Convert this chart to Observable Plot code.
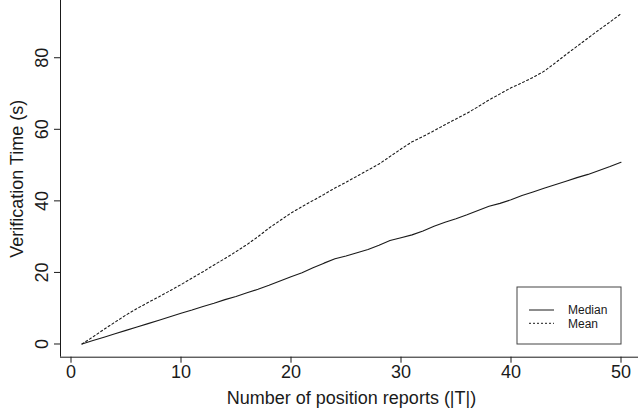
<!DOCTYPE html>
<html>
<head>
<meta charset="utf-8">
<script src="https://cdn.jsdelivr.net/npm/d3@7"></script>
<script src="https://cdn.jsdelivr.net/npm/@observablehq/plot@0.6"></script>
<style>
  html, body { margin: 0; padding: 0; background: #fff; }
  #chart svg { display: block; }
</style>
</head>
<body>
<div id="chart"></div>
<script>
// ---- data ----
const reports = [1,2,3,4,5,6,7,8,9,10,11,12,13,14,15,16,17,18,19,20,21,22,23,24,25,
                 26,27,28,29,30,31,32,33,34,35,36,37,38,39,40,41,42,43,44,45,46,47,48,49,50];
const medianTime = [0,0.95,1.9,2.85,3.8,4.75,5.7,6.65,7.6,8.6,9.5,10.5,11.4,12.4,13.3,14.3,15.3,16.4,17.6,18.8,
                    19.9,21.3,22.6,23.8,24.6,25.5,26.4,27.6,28.9,29.7,30.5,31.6,32.9,34.0,35.0,36.1,37.3,38.5,39.3,40.3,
                    41.5,42.5,43.5,44.5,45.5,46.5,47.4,48.5,49.6,50.8];
const meanTime = [0,2.0,4.1,6.1,8.1,9.9,11.6,13.2,14.9,16.6,18.4,20.2,22.1,23.9,25.8,27.8,30.0,32.4,34.5,36.6,
                  38.4,40.1,41.8,43.6,45.2,46.9,48.6,50.3,52.4,54.5,56.5,58.0,59.6,61.3,62.9,64.5,66.3,68.2,69.9,71.6,
                  73.0,74.5,76.2,78.5,80.9,83.2,85.5,87.8,90.0,92.3];
const xTicks = [0,10,20,30,40,50];
const yTicks = [0,20,40,60,80];
const seriesNames = ["Median","Mean"];
const xLabel = "Number of position reports (|T|)";
const yLabel = "Verification Time (s)";

const rows = reports.map((n, i) => ({n, median: medianTime[i], mean: meanTime[i]}));

const W = 638, H = 412;
const xDomain = [-0.955, 51.59];
const yDomain = [-3.69, 96.0];
const ink = "#1a1a1a";
const font = "'Liberation Sans', Arial, Helvetica, sans-serif";

const chart = Plot.plot({
  width: W, height: H,
  marginLeft: 60, marginRight: 0, marginTop: 0, marginBottom: 55.3,
  style: {fontFamily: font, fontSize: "18px", color: ink, background: "#fff", overflow: "visible"},
  x: {domain: xDomain},
  y: {domain: yDomain},
  marks: [
    Plot.ruleY([yDomain[0]], {stroke: ink, strokeWidth: 1}),
    Plot.ruleX([xDomain[0]], {stroke: ink, strokeWidth: 1}),
    Plot.axisX({ticks: xTicks, tickSize: 6, tickPadding: 2, tickFormat: d => String(d), label: null, stroke: ink, fill: ink, fontSize: 18}),
    Plot.axisY({ticks: yTicks, tickSize: 6, tickPadding: 7, tickRotate: -90, tickFormat: d => String(d), label: null, stroke: ink, fill: ink, fontSize: 18}),
    Plot.line(rows, {x: "n", y: "median", stroke: ink, strokeWidth: 1.1}),
    Plot.line(rows, {x: "n", y: "mean", stroke: ink, strokeWidth: 1.1, strokeDasharray: "2,2.5"}),
    Plot.text([xLabel], {frameAnchor: "bottom", dy: 34.3, dx: 2, lineAnchor: "top", textAnchor: "middle", fontSize: 18, fill: ink}),
    Plot.text([yLabel], {frameAnchor: "left", dx: -43, rotate: -90, lineAnchor: "middle", textAnchor: "middle", fontSize: 18, fill: ink})
  ]
});

// legend (layout only, in pixels)
const svg = d3.select(chart);
const lg = svg.append("g").attr("font-family", font).attr("font-size", 12).attr("fill", ink).attr("text-anchor", "start");
lg.append("rect").attr("x", 517).attr("y", 287).attr("width", 104).attr("height", 57)
  .attr("fill", "#fff").attr("stroke", "#444").attr("stroke-width", 1);
const dashes = [null, "2,2"];
const rowsY = [310, 323.3];
seriesNames.forEach((name, i) => {
  lg.append("line").attr("x1", 529).attr("x2", 554).attr("y1", rowsY[i]).attr("y2", rowsY[i])
    .attr("stroke", ink).attr("stroke-width", 1).attr("stroke-dasharray", dashes[i]);
  lg.append("text").attr("x", 568).attr("y", rowsY[i]).attr("dy", "0.35em").attr("text-anchor", "start").text(name);
});

document.getElementById("chart").appendChild(chart);
</script>
</body>
</html>
